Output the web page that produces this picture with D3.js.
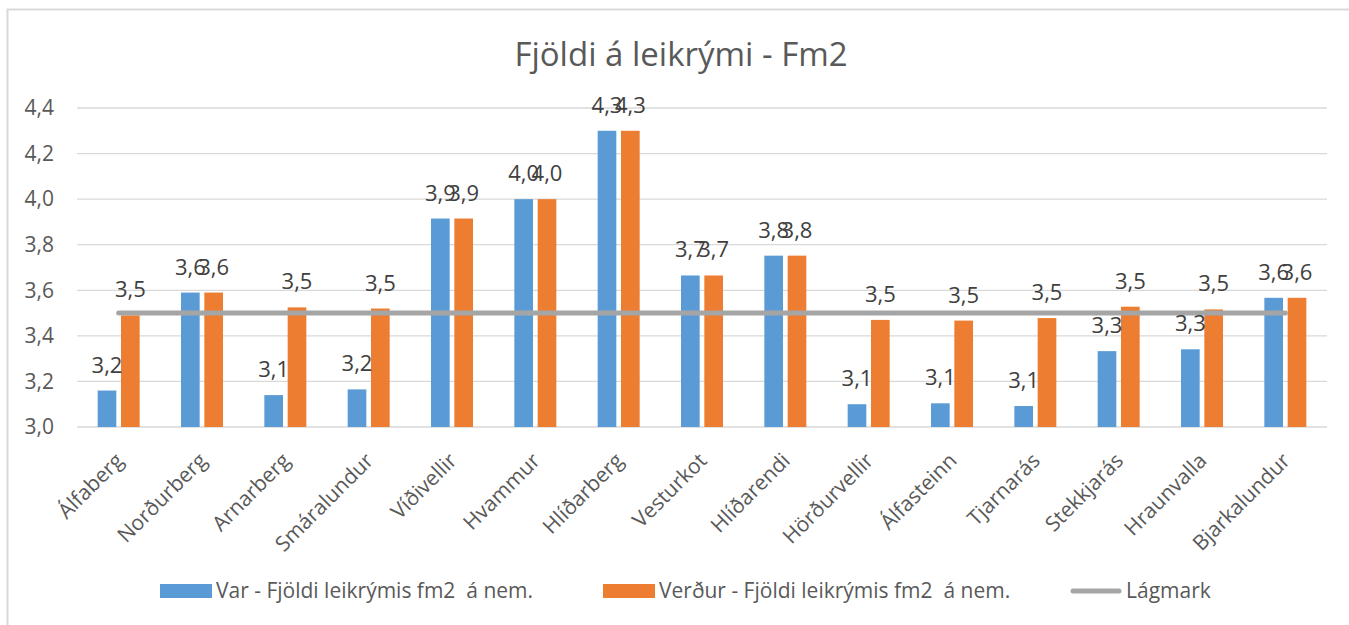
<!DOCTYPE html>
<html>
<head>
<meta charset="utf-8">
<script src="https://cdn.jsdelivr.net/npm/d3@7"></script>
<style>
  body { margin: 0; background: #fff; }
  svg text { font-family: "Open Sans", "Noto Sans", sans-serif; }
</style>
</head>
<body>
<div id="chart"></div>
<script>
const categories = ["Álfaberg", "Norðurberg", "Arnarberg", "Smáralundur", "Víðivellir", "Hvammur", "Hlíðarberg",
    "Vesturkot", "Hlíðarendi", "Hörðurvellir", "Álfasteinn", "Tjarnarás", "Stekkjarás", "Hraunvalla", "Bjarkalundur"];
const var_values = [3.16, 3.59, 3.14, 3.165, 3.915, 4.0, 4.3, 3.665, 3.752, 3.10, 3.104, 3.092, 3.333, 3.341, 3.567];
const verdur_values = [3.49, 3.59, 3.525, 3.52, 3.915, 4.0, 4.3, 3.665, 3.752, 3.47, 3.467, 3.478, 3.528, 3.516, 3.567];
const lagmark = 3.5;
const y_ticks = [3.0, 3.2, 3.4, 3.6, 3.8, 4.0, 4.2, 4.4];
const series_names = ["Var - Fjöldi leikrýmis fm2  á nem.", "Verður - Fjöldi leikrýmis fm2  á nem.", "Lágmark"];
const colors = ["#5B9BD5", "#ED7D31", "#A5A5A5"];

const W = 1349, H = 625;
const plot = { left: 77, right: 1327, top: 108, bottom: 427 };
const fmt = v => d3.format(".1f")(v).replace(".", ",");

const svg = d3.select("#chart").append("svg")
    .attr("width", W)
    .attr("height", H);

// chart border (right and bottom edges fall outside the picture)
svg.append("rect")
    .attr("x", 7.5).attr("y", 9.5)
    .attr("width", W + 20).attr("height", H + 20)
    .attr("fill", "#fff")
    .attr("stroke", "#D9D9D9")
    .attr("stroke-width", 2);

svg.append("text")
    .attr("x", 681).attr("y", 66)
    .attr("text-anchor", "middle")
    .attr("fill", "#595959")
    .style("font-size", "33px")
    .text("Fjöldi á leikrými - Fm2");

const x = d3.scaleBand()
    .domain(categories)
    .range([plot.left, plot.right])
    .paddingInner(0.496)
    .paddingOuter(0.248);

const x1 = d3.scaleBand()
    .domain([0, 1])
    .range([0, x.bandwidth()])
    .paddingInner(0.2);

const y = d3.scaleLinear()
    .domain([3.0, 4.4])
    .range([plot.bottom, plot.top]);

// gridlines
svg.append("g")
    .selectAll("line")
    .data(y_ticks)
    .join("line")
    .attr("x1", plot.left).attr("x2", plot.right)
    .attr("y1", d => y(d)).attr("y2", d => y(d))
    .attr("stroke", "#D9D9D9")
    .attr("stroke-width", 1.3);

// y axis labels
const yAxis = svg.append("g")
    .attr("transform", `translate(${plot.left}, 0)`)
    .call(d3.axisLeft(y).tickValues(y_ticks).tickSize(0).tickPadding(23).tickFormat(fmt));
yAxis.select(".domain").remove();
yAxis.selectAll("text")
    .attr("fill", "#595959")
    .style("font-size", "21px")
    .style("font-family", "'Open Sans', 'Noto Sans', sans-serif");

// x axis labels, rotated
const xAxis = svg.append("g")
    .attr("transform", `translate(0, ${plot.bottom})`)
    .call(d3.axisBottom(x).tickSize(0).tickPadding(0));
xAxis.select(".domain").remove();
xAxis.selectAll("text")
    .attr("fill", "#595959")
    .style("font-size", "21px")
    .style("font-family", "'Open Sans', 'Noto Sans', sans-serif")
    .attr("text-anchor", "end")
    .attr("dy", null)
    .attr("y", 0)
    .attr("transform", "translate(6, 35) rotate(-45)");

// bars
const bar_data = [];
categories.forEach((c, i) => {
    bar_data.push({ cat: c, s: 0, value: var_values[i] });
    bar_data.push({ cat: c, s: 1, value: verdur_values[i] });
});

svg.append("g")
    .selectAll("rect")
    .data(bar_data)
    .join("rect")
    .attr("x", d => x(d.cat) + x1(d.s))
    .attr("y", d => y(d.value))
    .attr("width", x1.bandwidth())
    .attr("height", d => y(3.0) - y(d.value))
    .attr("fill", d => colors[d.s]);

// Lágmark line
svg.append("line")
    .attr("x1", x(categories[0]) + x.bandwidth() / 2)
    .attr("x2", x(categories[categories.length - 1]) + x.bandwidth() / 2)
    .attr("y1", y(lagmark)).attr("y2", y(lagmark))
    .attr("stroke", colors[2])
    .attr("stroke-width", 5)
    .attr("stroke-linecap", "round");

// data labels
svg.append("g")
    .selectAll("text")
    .data(bar_data)
    .join("text")
    .attr("x", d => x(d.cat) + x1(d.s) + x1.bandwidth() / 2)
    .attr("y", d => y(d.value) - 18)
    .attr("text-anchor", "middle")
    .attr("fill", "#404040")
    .style("font-size", "22px")
    .text(d => fmt(d.value));

// legend
const legend = svg.append("g").attr("transform", "translate(0, 591)");
const legend_x = [160, 603, 1070];
series_names.forEach((name, i) => {
    const g = legend.append("g").attr("transform", `translate(${legend_x[i]}, 0)`);
    if (i < 2) {
        g.append("rect")
            .attr("x", 0).attr("y", -7)
            .attr("width", 52).attr("height", 14)
            .attr("fill", colors[i]);
    } else {
        g.append("line")
            .attr("x1", 3).attr("x2", 49)
            .attr("y1", 0).attr("y2", 0)
            .attr("stroke", colors[i])
            .attr("stroke-width", 5)
            .attr("stroke-linecap", "round");
    }
    g.append("text")
        .attr("x", 56).attr("y", 0)
        .attr("dy", "0.35em")
        .attr("fill", "#595959")
        .style("font-size", "21px")
        .style("white-space", "pre")
        .text(name);
});
</script>
</body>
</html>
